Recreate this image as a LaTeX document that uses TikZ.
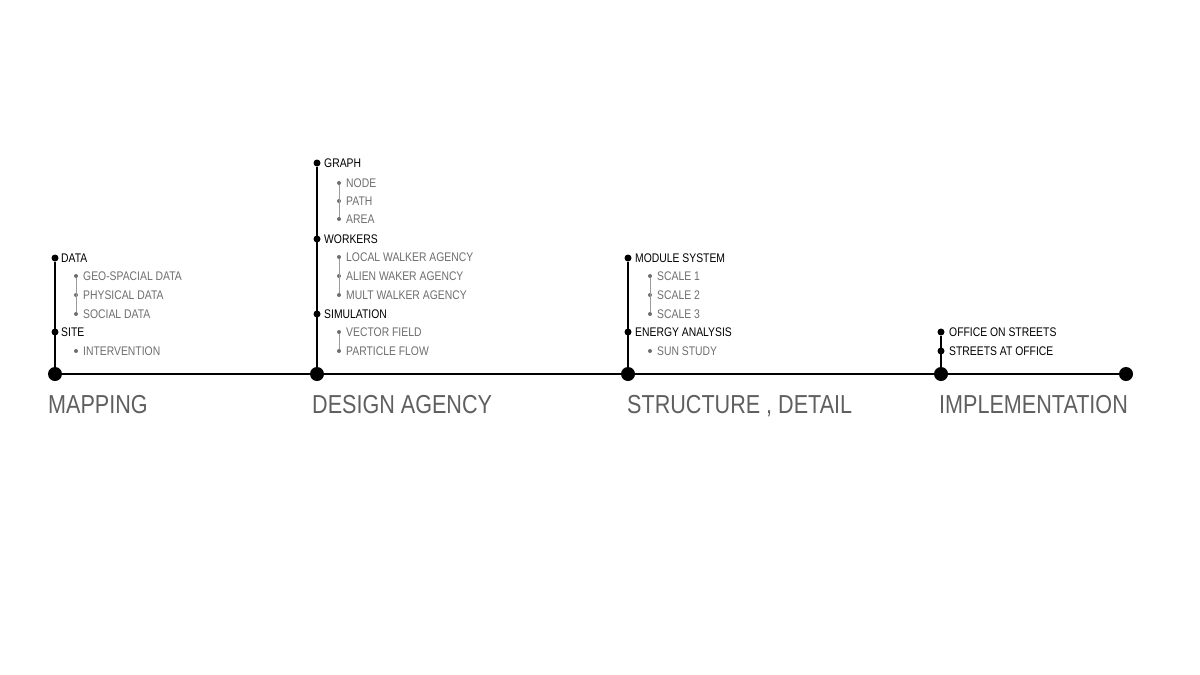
\documentclass[tikz,border=0pt]{standalone}
\usepackage{fontspec}
\setmainfont{Liberation Sans}[FakeStretch=0.83]
\definecolor{headgray}{RGB}{95,95,95}
\definecolor{subgray}{RGB}{110,110,110}
\begin{document}
\begin{tikzpicture}[x=1pt, y=-1pt,
    bigdot/.style={circle, fill=black, inner sep=0, minimum size=14},
    dot/.style={circle, fill=black, inner sep=0, minimum size=7},
    subdot/.style={circle, fill=subgray, inner sep=0, minimum size=4},
    item/.style={anchor=west, inner sep=0, font=\fontsize{12.5}{14}\selectfont},
    subitem/.style={item, text=subgray},
    phase/.style={anchor=base west, inner sep=0, text=headgray, font=\fontsize{26}{30}\selectfont},
    stem/.style={line width=1.5},
    subline/.style={subgray!70, line width=1}]
\useasboundingbox (0,0) rectangle (1200,675);

% timeline
\node[bigdot] (mapping) at (55,374) {};
\node[bigdot] (design) at (317,374) {};
\node[bigdot] (structure) at (628,374) {};
\node[bigdot] (implementation) at (941,374) {};
\node[bigdot] (end) at (1126,374) {};
\draw[line width=2] (mapping) -- (design) -- (structure) -- (implementation) -- (end);

\node[phase] at (48,413) {MAPPING};
\node[phase] at (312,413) {DESIGN AGENCY};
\node[phase] at (627,413) {STRUCTURE , DETAIL};
\node[phase] at (939,413) {IMPLEMENTATION};

% mapping
\node[dot] (data) at (55,258) {};
\node[item] at (61,258) {DATA};
\node[subdot] (geo) at (76,276) {};
\node[subitem] at (83,276) {GEO-SPACIAL DATA};
\node[subdot] (physical) at (76,295) {};
\node[subitem] at (83,295) {PHYSICAL DATA};
\node[subdot] (social) at (76,314) {};
\node[subitem] at (83,314) {SOCIAL DATA};
\node[dot] (site) at (55,332) {};
\node[item] at (61,332) {SITE};
\node[subdot] (intervention) at (76,351) {};
\node[subitem] at (83,351) {INTERVENTION};
\draw[stem] (mapping) -- (data);
\draw[subline] (geo) -- (social);

% design agency
\node[dot] (graph) at (317,163) {};
\node[item] at (324,163) {GRAPH};
\node[subdot] (nd) at (339,183) {};
\node[subitem] at (346,183) {NODE};
\node[subdot] (path) at (339,201) {};
\node[subitem] at (346,201) {PATH};
\node[subdot] (area) at (339,219) {};
\node[subitem] at (346,219) {AREA};
\node[dot] (workers) at (317,239) {};
\node[item] at (324,239) {WORKERS};
\node[subdot] (local) at (339,257) {};
\node[subitem] at (346,257) {LOCAL WALKER AGENCY};
\node[subdot] (alien) at (339,276) {};
\node[subitem] at (346,276) {ALIEN WAKER AGENCY};
\node[subdot] (mult) at (339,295) {};
\node[subitem] at (346,295) {MULT WALKER AGENCY};
\node[dot] (simulation) at (317,314) {};
\node[item] at (324,314) {SIMULATION};
\node[subdot] (vector) at (339,332) {};
\node[subitem] at (346,332) {VECTOR FIELD};
\node[subdot] (particle) at (339,351) {};
\node[subitem] at (346,351) {PARTICLE FLOW};
\draw[stem] (design) -- (graph);
\draw[subline] (nd) -- (area);
\draw[subline] (local) -- (mult);
\draw[subline] (vector) -- (particle);

% structure, detail
\node[dot] (module) at (628,258) {};
\node[item] at (635,258) {MODULE SYSTEM};
\node[subdot] (scale1) at (650,276) {};
\node[subitem] at (657,276) {SCALE 1};
\node[subdot] (scale2) at (650,295) {};
\node[subitem] at (657,295) {SCALE 2};
\node[subdot] (scale3) at (650,314) {};
\node[subitem] at (657,314) {SCALE 3};
\node[dot] (energy) at (628,332) {};
\node[item] at (635,332) {ENERGY ANALYSIS};
\node[subdot] (sun) at (650,351) {};
\node[subitem] at (657,351) {SUN STUDY};
\draw[stem] (structure) -- (module);
\draw[subline] (scale1) -- (scale3);

% implementation
\node[dot] (office) at (941,332) {};
\node[item] at (949,332) {OFFICE ON STREETS};
\node[dot] (streets) at (941,351) {};
\node[item] at (949,351) {STREETS AT OFFICE};
\draw[stem] (implementation) -- (office);
\end{tikzpicture}
\end{document}
